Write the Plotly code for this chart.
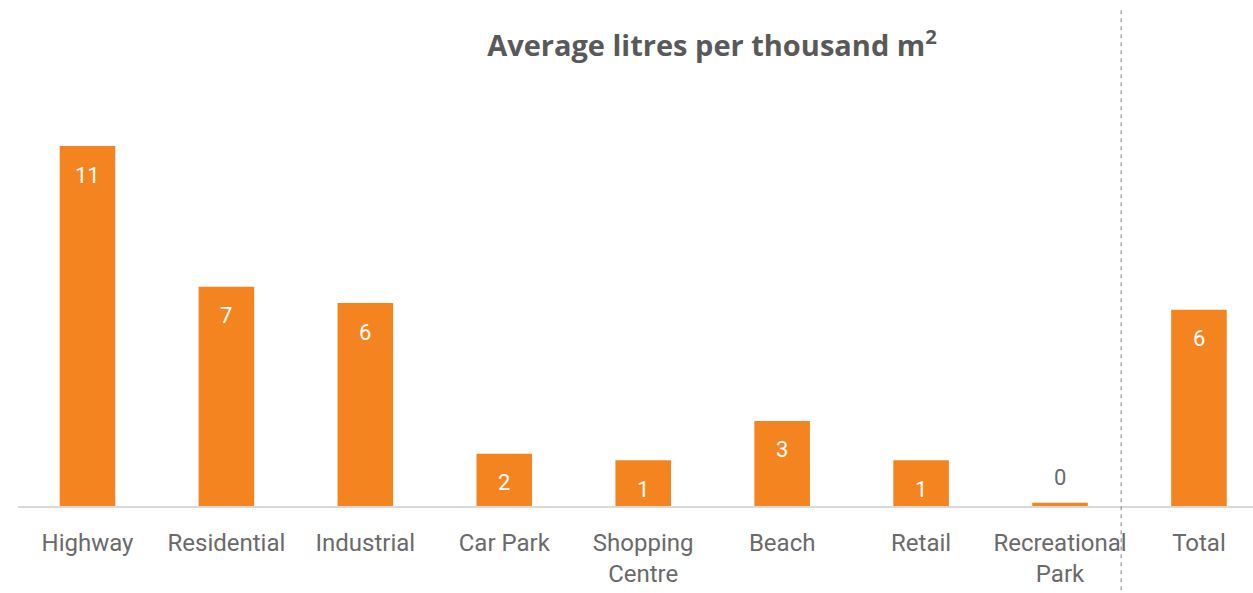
import plotly.graph_objects as go

# Average litres collected per thousand square metres, by site type
categories = ["Highway", "Residential", "Industrial", "Car Park", "Shopping<br>Centre",
              "Beach", "Retail", "Recreational<br>Park", "Total"]
litres_per_thousand_m2 = [11.0, 6.7, 6.2, 1.6, 1.4, 2.6, 1.4, 0.1, 6.0]

BAR_COLOR = "#F4841F"
TEXT_GREY = "#595959"
TICK_GREY = "#6A6A6A"
FONT = "Roboto, 'Open Sans', sans-serif"
TITLE_FONT = "'Open Sans', Roboto, sans-serif"

x_pos = list(range(len(categories)))
x_range = [-0.5, 8.389]
y_range = [0, 14.85]

fig = go.Figure(
    go.Bar(
        x=x_pos,
        y=litres_per_thousand_m2,
        width=0.4,
        marker=dict(color=BAR_COLOR, line=dict(width=0)),
        hoverinfo="skip",
    )
)

# value labels: white inside the bar, grey above it when the bar is too short
annotations = []
for xi, v in zip(x_pos, litres_per_thousand_m2):
    label = f"{v:.0f}"
    inside = round(v) >= 1
    annotations.append(dict(
        x=xi, y=v, xref="x", yref="y", text=label, showarrow=False,
        yanchor="middle", yshift=-29 if inside else 25,
        font=dict(family=FONT, size=22, color="white" if inside else TICK_GREY),
    ))

# dashed separator between the site types and the overall total
sep_x = 7.44
sep_paper = (sep_x - x_range[0]) / (x_range[1] - x_range[0])
shapes = [dict(
    type="line", xref="paper", yref="paper",
    x0=sep_paper, x1=sep_paper, y0=-0.19, y1=1.025,
    line=dict(color="#808080", width=1, dash="4px,4px"),
)]

fig.update_layout(
    width=1253, height=593,
    margin=dict(l=18, r=0, t=20, b=87),
    paper_bgcolor="white", plot_bgcolor="white",
    showlegend=False,
    title=dict(
        text="<b>Average litres per thousand m<sup>2</sup></b>",
        x=712 / 1253, xanchor="center", xref="container",
        y=1 - 46 / 593, yanchor="middle", yref="container",
        font=dict(family=TITLE_FONT, size=29, color=TEXT_GREY),
    ),
    xaxis=dict(
        range=x_range, tickvals=x_pos, ticktext=categories,
        showline=True, linecolor="#D9D9D9", linewidth=2,
        showgrid=False, zeroline=False, ticks="",
        ticklabelstandoff=14,
        tickfont=dict(family=FONT, size=24, color=TICK_GREY),
        fixedrange=True,
    ),
    yaxis=dict(
        range=y_range, visible=False, showgrid=False, zeroline=False,
        fixedrange=True,
    ),
    annotations=annotations,
    shapes=shapes,
)

fig.write_html("out.html")
